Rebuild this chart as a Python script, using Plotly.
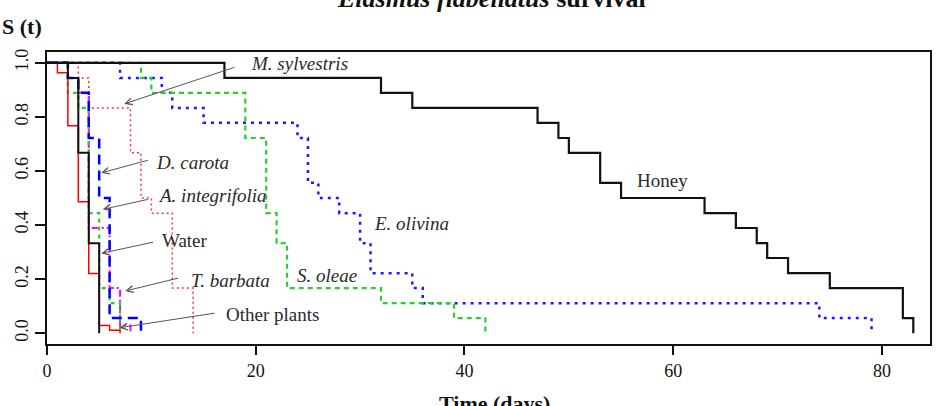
import plotly.graph_objects as go

# ---- data (days, survival S(t)) ----
honey_t = [0, 17, 32, 35, 47, 49, 50, 53, 55, 63, 66, 68, 69, 71, 75, 82, 83]
honey_s = [1, 0.944, 0.889, 0.833, 0.778, 0.722, 0.667, 0.556, 0.5, 0.444, 0.389, 0.333, 0.278, 0.222, 0.167, 0.056, 0]

water_t = [0, 2, 3, 4, 5]
water_s = [1, 0.944, 0.667, 0.333, 0]

other_t = [0, 1, 2, 3, 4, 5, 6, 7]
other_s = [1, 0.963, 0.767, 0.486, 0.221, 0.028, 0.011, 0]

integ_t = [0, 2, 3, 4, 5, 6, 7]
integ_s = [1, 0.889, 0.833, 0.444, 0.167, 0.111, 0]

carota_t = [0, 2, 3, 4, 5, 6, 9]
carota_s = [1, 0.944, 0.889, 0.722, 0.5, 0.056, 0]

barbata_t = [0, 2, 3, 4, 6, 7, 8]
barbata_s = [1, 0.944, 0.889, 0.389, 0.167, 0.028, 0]

sylv_t = [0, 3, 4, 8, 9, 10, 12, 14]
sylv_s = [1, 0.944, 0.833, 0.667, 0.5, 0.444, 0.167, 0]

olivina_t = [0, 7, 11, 12, 15, 24, 25, 26, 28, 30, 31, 35, 36, 74, 79]
olivina_s = [1, 0.944, 0.889, 0.833, 0.778, 0.722, 0.556, 0.5, 0.444, 0.333, 0.222, 0.167, 0.111, 0.056, 0]

oleae_t = [0, 9, 10, 19, 21, 22, 23, 32, 39, 42]
oleae_s = [1, 0.944, 0.889, 0.722, 0.444, 0.333, 0.167, 0.111, 0.056, 0]

x_ticks = [0, 20, 40, 60, 80]
y_ticks = [0, 0.2, 0.4, 0.6, 0.8, 1.0]
y_ticktext = ["0.0", "0.2", "0.4", "0.6", "0.8", "1.0"]

# labels: (text, x, y)
labels = [
    ("<i>M. sylvestris</i>", 24.2, 0.996),
    ("<i>D. carota</i>", 13.95, 0.63),
    ("<i>A. integrifolia</i>", 15.9, 0.511),
    ("Water", 13.2, 0.344),
    ("<i>T. barbata</i>", 17.55, 0.196),
    ("Other plants", 21.65, 0.07),
    ("<i>S. oleae</i>", 26.84, 0.215),
    ("<i>E. olivina</i>", 34.95, 0.406),
    ("Honey", 58.98, 0.565),
]
# arrows: (tail_x, tail_y, tip_x, tip_y)
arrows = [
    (18.1, 0.985, 7.4, 0.848),
    (9.8, 0.641, 5.2, 0.593),
    (9.8, 0.496, 5.35, 0.458),
    (10.3, 0.338, 5.2, 0.295),
    (12.7, 0.205, 7.5, 0.156),
    (16.2, 0.075, 6.94, 0.02),
]

fig = go.Figure()

def add(t, s, color, width, dash):
    fig.add_trace(go.Scatter(x=t, y=s, mode="lines", line_shape="hv",
                             line=dict(color=color, width=width, dash=dash),
                             hoverinfo="skip"))

add(olivina_t, olivina_s, "#1a1aff", 2.5, "3px,5px")
add(oleae_t, oleae_s, "#2ecc2e", 2.2, "5px,4px")
add(sylv_t, sylv_s, "#ff3333", 1.5, "2px,3px")
add(barbata_t, barbata_s, "#ff00ff", 2, "7px,3px,2px,3px")
add(integ_t, integ_s, "#2ecc2e", 2.2, "4px,4px")
add(carota_t, carota_s, "#0000ff", 2.5, "10px,6px")
add(other_t, other_s, "#ff0000", 1.5, "solid")
add(water_t, water_s, "#111111", 2, "solid")
add(honey_t, honey_s, "#111111", 2.2, "solid")

annotations = []
for txt, x, y in labels:
    annotations.append(dict(x=x, y=y, xref="x", yref="y", text=txt, showarrow=False,
                            font=dict(size=19, color="#2a2a2a"), xanchor="center", yanchor="middle"))
for tx, ty, hx, hy in arrows:
    annotations.append(dict(x=hx, y=hy, xref="x", yref="y", ax=tx, ay=ty, axref="x", ayref="y",
                            text="", showarrow=True, arrowhead=5, arrowsize=1.3,
                            arrowwidth=1, arrowcolor="#555555", standoff=0))

# title, axis titles
annotations.append(dict(x=0.503, y=1.127, xref="paper", yref="paper",
                        text="<b><i>Elasmus flabellatus</i> survival</b>", showarrow=False,
                        font=dict(size=26, color="#111111"), xanchor="center", yanchor="bottom"))
annotations.append(dict(x=-0.0531, y=1.089, xref="paper", yref="paper",
                        text="<b>S (t)</b>", showarrow=False,
                        font=dict(size=22, color="#111111"), xanchor="left", yanchor="middle"))
annotations.append(dict(x=0.507, y=-0.154, xref="paper", yref="paper",
                        text="<b>Time (days)</b>", showarrow=False,
                        font=dict(size=22, color="#111111"), xanchor="center", yanchor="top"))

fig.update_layout(
    width=936, height=406,
    margin=dict(l=47, r=4, t=52, b=62),
    paper_bgcolor="white", plot_bgcolor="white",
    showlegend=False,
    font=dict(family="Liberation Serif", color="#111111"),
    annotations=annotations,
    xaxis=dict(range=[0, 84.6], tickvals=x_ticks, ticks="outside", ticklen=9, tickwidth=1.5,
               tickcolor="#111111", showline=True, linewidth=2, linecolor="#111111", mirror=True,
               showgrid=False, zeroline=False, tickfont=dict(size=18)),
    yaxis=dict(range=[-0.04, 1.04], tickvals=y_ticks, ticktext=y_ticktext, tickangle=-90,
               ticks="outside", ticklen=10, tickwidth=1.5, tickcolor="#111111",
               showline=True, linewidth=2, linecolor="#111111", mirror=True,
               showgrid=False, zeroline=False, tickfont=dict(size=18)),
)

fig.write_html("out.html")
